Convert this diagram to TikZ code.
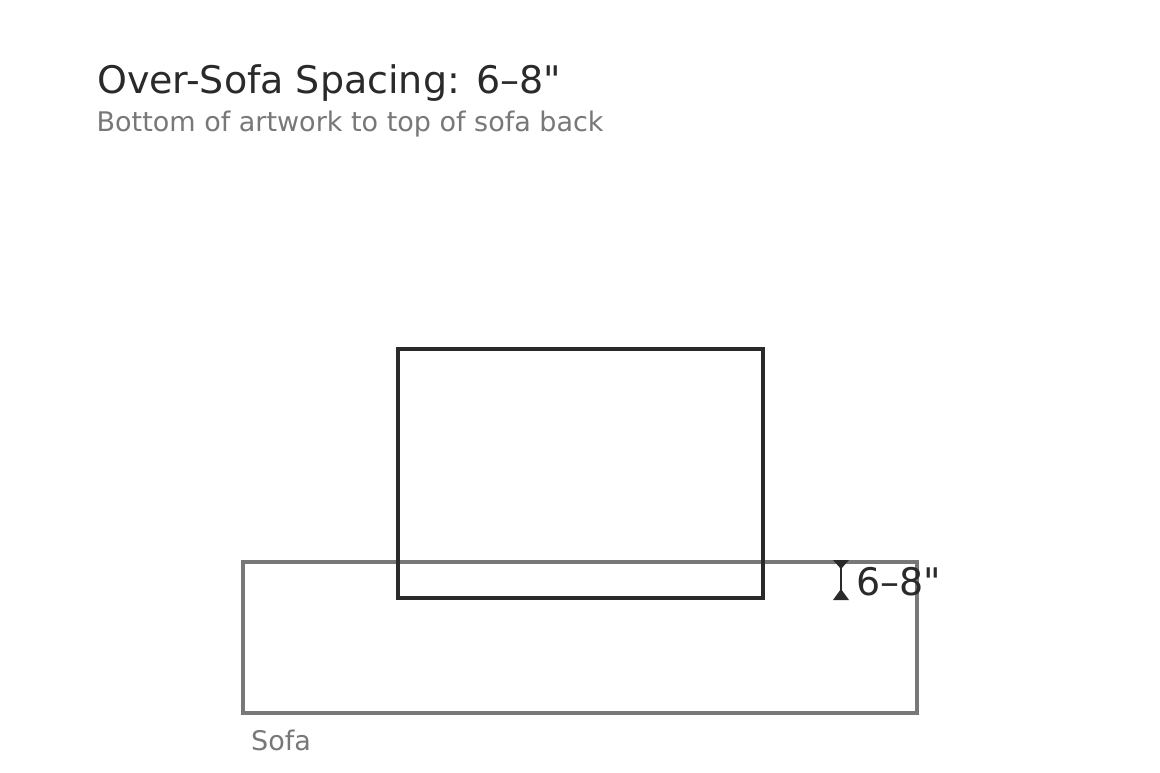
\documentclass[tikz,border=0pt]{standalone}
\usepackage{fontspec}
\setmainfont{DejaVu Sans}[Ligatures=TeXOff]
\definecolor{ink}{HTML}{2A2A2A}
\definecolor{mute}{HTML}{787878}
\begin{document}
\begin{tikzpicture}[x=1bp,y=-1bp,
  titletext/.style={inner sep=0pt,anchor=base west,text=ink,font=\fontsize{38bp}{44bp}\selectfont},
  subtext/.style={inner sep=0pt,anchor=base west,text=mute,font=\fontsize{27bp}{32bp}\selectfont},
  dimtext/.style={inner sep=0pt,anchor=base west,text=ink,font=\fontsize{38bp}{44bp}\selectfont},
  sofaline/.style={draw=mute,line width=3.2bp},
  artline/.style={draw=ink,line width=3.2bp},
  dimline/.style={draw=ink,line width=2.6bp},
  dimhead/.style={fill=ink}]
\fill[white] (0,0) rectangle (1160,773);
\useasboundingbox (0,0) rectangle (1160,773);
% sofa
\coordinate (sofaA) at (243,562);
\coordinate (sofaB) at (917,713);
\path[sofaline] (sofaA) rectangle (sofaB);
% artwork
\coordinate (artA) at (398,349);
\coordinate (artB) at (763,598);
\path[artline] (artA) rectangle (artB);
% dimension
\coordinate (dimtop) at (841,560);
\coordinate (dimbot) at (841,600);
\path[dimline] (dimtop) -- (dimbot);
\fill[dimhead] ([xshift=-8bp]dimtop) -- ([xshift=8bp]dimtop) -- ([yshift=-9bp]dimtop) -- cycle;
\fill[dimhead] ([xshift=-8bp]dimbot) -- ([xshift=8bp]dimbot) -- ([yshift=11bp]dimbot) -- cycle;
\node[dimtext] (dimlabel) at (856,595) {6–8"};
% texts
\node[titletext] (title) at (97,94) {Over-Sofa Spacing: 6–8"};
\node[subtext] (subtitle) at (96.5,131) {Bottom of artwork to top of sofa back};
\node[subtext] (sofalabel) at (251,750) {Sofa};
\end{tikzpicture}
\end{document}
